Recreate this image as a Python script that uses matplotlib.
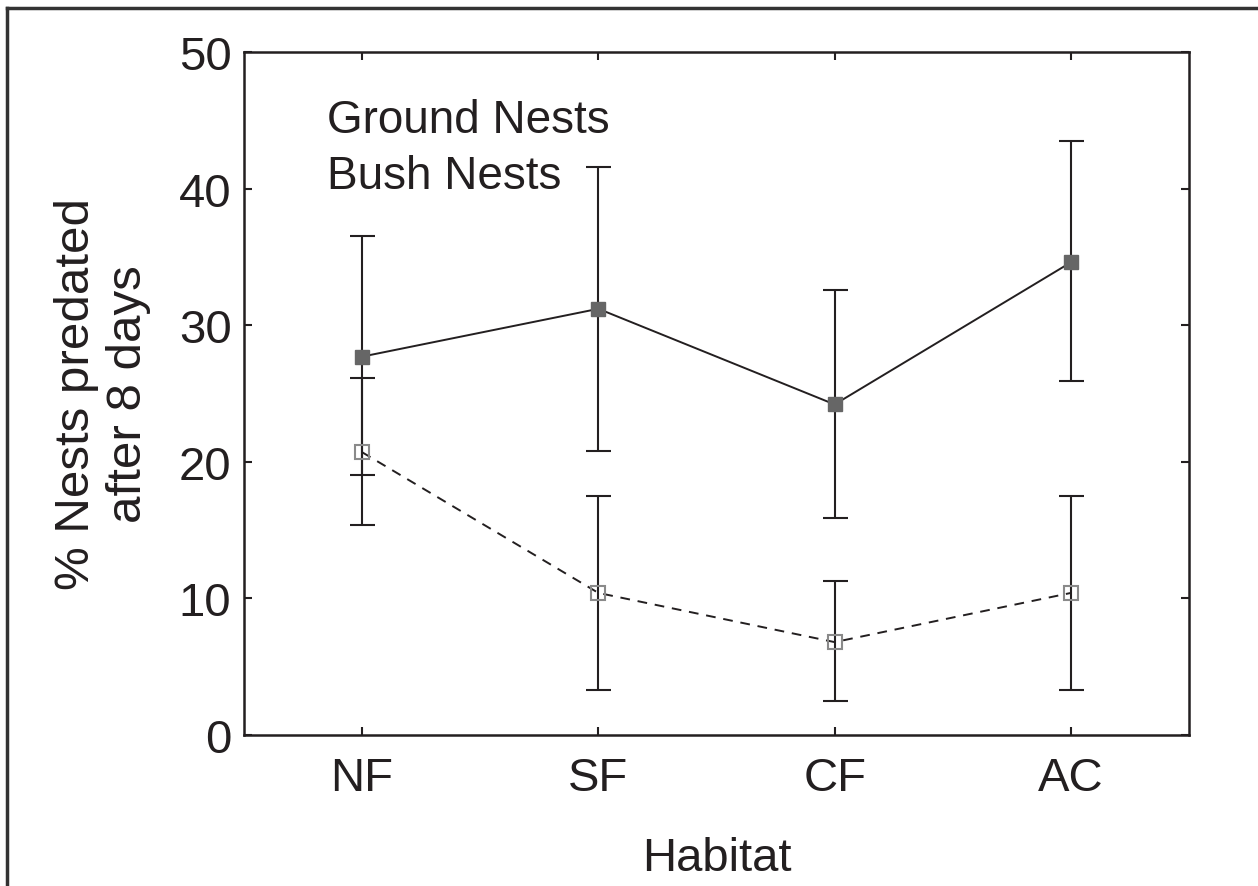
import matplotlib
matplotlib.use("Agg")
import matplotlib.pyplot as plt
from matplotlib.lines import Line2D

plt.rcParams['font.family'] = ['Liberation Sans', 'DejaVu Sans']

habitats = ["NF", "SF", "CF", "AC"]
ground_mean = [27.7, 31.2, 24.2, 34.6]
ground_upper = [36.5, 41.6, 32.6, 43.5]
ground_lower = [19.0, 20.8, 15.9, 25.9]
bush_mean = [20.7, 10.4, 6.8, 10.4]
bush_upper = [26.1, 17.5, 11.3, 17.5]
bush_lower = [15.4, 3.3, 2.5, 3.3]
yticks = [0, 10, 20, 30, 40, 50]

TXT = '#231f20'
fig = plt.figure(figsize=(12.58, 8.87), dpi=100)
ax = fig.add_axes([244/1258, 1-736/887, (1189-244)/1258, (736-53)/887])

x = list(range(1, len(habitats) + 1))

def err(mean, lo, hi):
    return [[m - l for m, l in zip(mean, lo)], [h - m for m, h in zip(mean, hi)]]

ax.errorbar(x, ground_mean, yerr=err(ground_mean, ground_lower, ground_upper),
            fmt='none', ecolor=TXT, elinewidth=1.5, capsize=9, capthick=1.5, zorder=2)
ax.errorbar(x, bush_mean, yerr=err(bush_mean, bush_lower, bush_upper),
            fmt='none', ecolor=TXT, elinewidth=1.5, capsize=9, capthick=1.5, zorder=2)

l1, = ax.plot(x, ground_mean, '-', color=TXT, lw=1.4, marker='s', ms=10,
              mfc='#666666', mec='#666666', zorder=3, label='Ground Nests')
l2, = ax.plot(x, bush_mean, '--', color=TXT, lw=1.4, dashes=(5, 4), marker='s', ms=10,
              mfc='none', mec='#8a8a8a', mew=1.5, zorder=3, label='Bush Nests')

ax.set_xlim(0.5, 4.5)
ax.set_ylim(0, 50)
ax.set_xticks(x)
ax.set_xticklabels(habitats)
ax.set_yticks(yticks)
ax.tick_params(direction='in', length=6, width=1.5, top=True, right=True,
               labelsize=34, colors=TXT)
ax.tick_params(axis='x', pad=15)
ax.tick_params(axis='y', pad=9)
for s in ax.spines.values():
    s.set_linewidth(1.8)
    s.set_color(TXT)

ax.set_xlabel('Habitat', fontsize=34, color=TXT, labelpad=26)
ax.set_ylabel('% Nests predated\nafter 8 days', fontsize=35.5, color=TXT, labelpad=20,
              linespacing=1.2)

leg = ax.legend(handles=[l1, l2], loc='upper left', bbox_to_anchor=(0.088, 0.932),
                frameon=False, fontsize=33, handlelength=0, handletextpad=0,
                labelspacing=0.25, borderaxespad=0, borderpad=0)
for h in leg.legend_handles:
    h.set_visible(False)
for t in leg.get_texts():
    t.set_color(TXT)

# outer frame (left and top edges visible)
fig.add_artist(Line2D([7/1258, 7/1258], [0, 1-9/887], transform=fig.transFigure,
                      color='#333333', lw=2.5))
fig.add_artist(Line2D([7/1258, 1], [1-9/887, 1-9/887], transform=fig.transFigure,
                      color='#333333', lw=2.5))

fig.savefig('out.png', dpi=100)
